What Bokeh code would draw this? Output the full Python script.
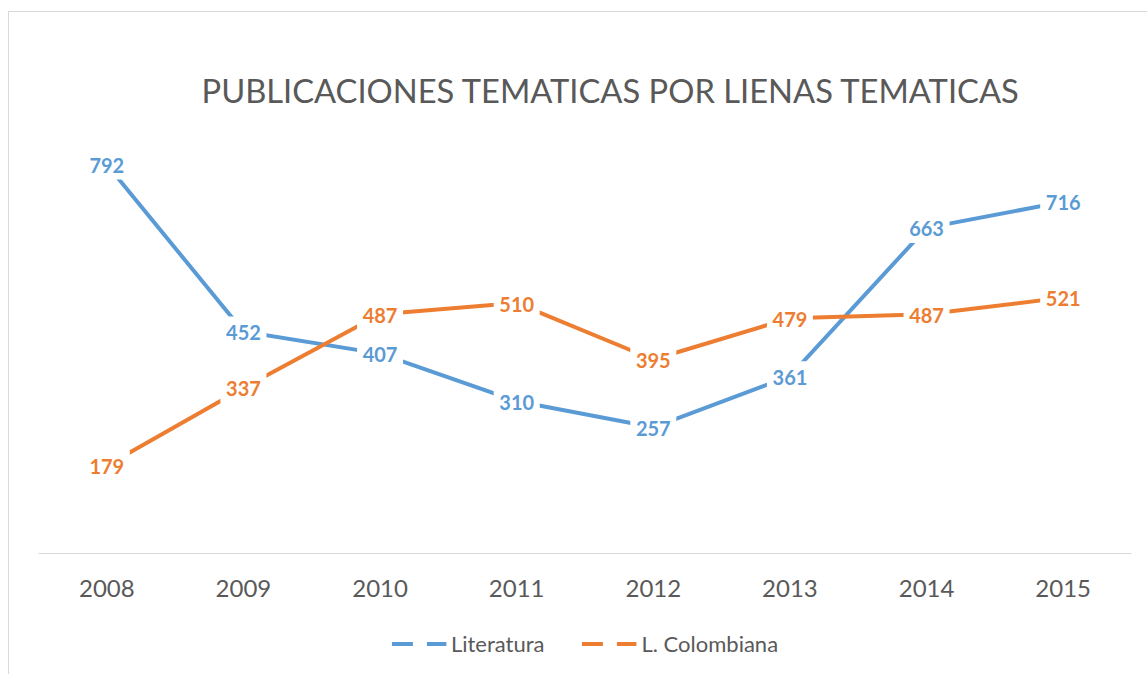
from bokeh.plotting import figure
from bokeh.layouts import column
from bokeh.models import ColumnDataSource, Range1d, FactorRange, Legend, LegendItem
from bokeh.core.properties import value
from bokeh.embed import file_html
from bokeh.resources import INLINE

years = ["2008", "2009", "2010", "2011", "2012", "2013", "2014", "2015"]
literatura = [792, 452, 407, 310, 257, 361, 663, 716]
colombiana = [179, 337, 487, 510, 395, 479, 487, 521]
series_names = ["Literatura", "L. Colombiana"]
title_text = "PUBLICACIONES TEMATICAS POR LIENAS TEMATICAS"

BLUE = "#5B9BD5"
ORANGE = "#ED7D31"
GREY_TXT = "#595959"
FONT = "Lato"

p = figure(width=1139, height=609, x_range=FactorRange(*years), y_range=Range1d(0, 900),
           output_backend="svg", toolbar_location=None, y_axis_location=None,
           min_border_left=30, min_border_right=16, min_border_top=100, min_border_bottom=67)
p.outline_line_color = None
p.grid.visible = False
p.border_fill_color = None
p.background_fill_color = None

src_l = ColumnDataSource(dict(x=years, y=literatura, t=[str(v) for v in literatura]))
src_c = ColumnDataSource(dict(x=years, y=colombiana, t=[str(v) for v in colombiana]))

p.line("x", "y", source=src_l, line_color=BLUE, line_width=4)
p.line("x", "y", source=src_c, line_color=ORANGE, line_width=4)

for src in (src_l, src_c):
    p.rect("x", "y", source=src, width=46, height=30, width_units="screen", height_units="screen",
           fill_color="white", line_color=None)
for src, col in ((src_l, BLUE), (src_c, ORANGE)):
    p.text("x", "y", text="t", source=src, text_color=col, text_font=value(FONT),
           text_font_style="bold", text_font_size="20px", text_align="center",
           text_baseline="middle", y_offset=1)

ax = p.xaxis[0]
ax.axis_line_color = "#d9d9d9"
ax.axis_line_width = 1
ax.major_tick_line_color = None
ax.minor_tick_line_color = None
ax.major_label_text_font = FONT
ax.major_label_text_font_size = "24px"
ax.major_label_text_color = GREY_TXT
ax.major_label_standoff = 20

p.title.text = title_text
p.title.text_font = FONT
p.title.text_font_size = "32.7px"
p.title.text_font_style = "normal"
p.title.text_color = GREY_TXT
p.title.align = "left"
p.title.offset = 163
p.title.standoff = 4

# legend strip below the chart
lg = figure(width=1139, height=54, x_range=Range1d(0, 1), y_range=Range1d(0, 1),
            output_backend="svg", toolbar_location=None, x_axis_location=None, y_axis_location=None,
            min_border_left=30, min_border_right=16, min_border_top=0, min_border_bottom=8)
lg.outline_line_color = None
lg.grid.visible = False
lg.border_fill_color = None
lg.background_fill_color = None
leg_l = lg.line(x=[float("nan")], y=[float("nan")], line_color=BLUE, line_width=4, line_dash="21 14")
leg_c = lg.line(x=[float("nan")], y=[float("nan")], line_color=ORANGE, line_width=4, line_dash="21 14")
legend = Legend(items=[LegendItem(label=series_names[0], renderers=[leg_l]),
                       LegendItem(label=series_names[1], renderers=[leg_c])],
                orientation="horizontal", location="center",
                glyph_width=55, label_standoff=5, spacing=37,
                label_text_font=FONT, label_text_font_size="22px", label_text_color=GREY_TXT,
                border_line_color=None, background_fill_alpha=0, margin=0, padding=2)
lg.add_layout(legend, "center")

layout = column(p, lg, spacing=0, margin=(11, 0, 0, 8),
                styles={"box-shadow": "inset 1px 1px 0 0 #d9d9d9"})

open("out.html", "w").write(file_html(layout, INLINE))
